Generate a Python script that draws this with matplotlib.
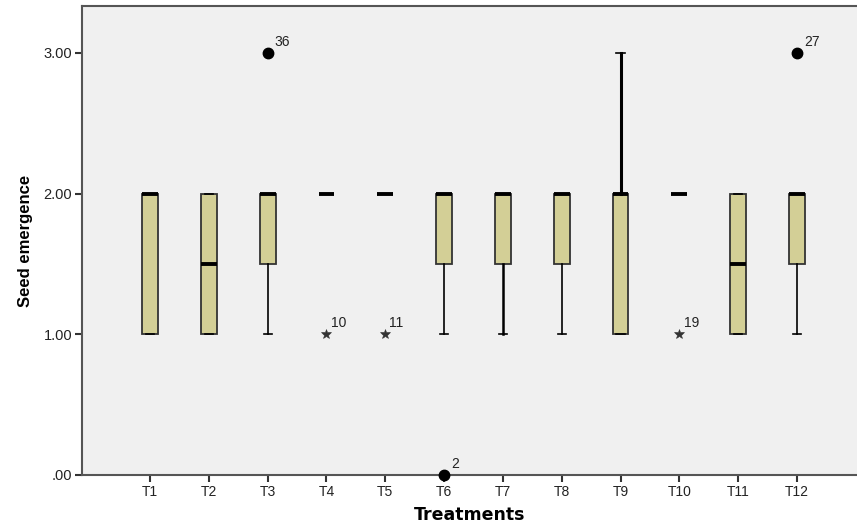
import matplotlib
matplotlib.use("Agg")
import matplotlib.pyplot as plt

# ---- data (summary statistics) ----
treatments = ["T1", "T2", "T3", "T4", "T5", "T6", "T7", "T8", "T9", "T10", "T11", "T12"]
q1 =      [1.0, 1.0, 1.5, 2.0, 2.0, 1.5, 1.5, 1.5, 1.0, 2.0, 1.0, 1.5]
median =  [2.0, 1.5, 2.0, 2.0, 2.0, 2.0, 2.0, 2.0, 2.0, 2.0, 1.5, 2.0]
q3 =      [2.0, 2.0, 2.0, 2.0, 2.0, 2.0, 2.0, 2.0, 2.0, 2.0, 2.0, 2.0]
wlo =     [1.0, 1.0, 1.0, 2.0, 2.0, 1.0, 1.0, 1.0, 1.0, 2.0, 1.0, 1.0]
whi =     [2.0, 2.0, 2.0, 2.0, 2.0, 2.0, 2.0, 2.0, 3.0, 2.0, 2.0, 2.0]

# outliers: (treatment index, value, case label)
circle_out_idx = [2, 5, 11]
circle_out_val = [3.0, 0.0, 3.0]
circle_out_lab = ["36", "2", "27"]
star_out_idx = [3, 4, 9]
star_out_val = [1.0, 1.0, 1.0]
star_out_lab = ["10", "11", "19"]

yticks = [0, 1, 2, 3]
yticklabels = [".00", "1.00", "2.00", "3.00"]

plt.rcParams["font.family"] = ["Liberation Sans", "DejaVu Sans"]

fig = plt.figure(figsize=(8.57, 5.27), dpi=100)
fig.patch.set_facecolor("white")
ax = fig.add_axes([82 / 857, 52 / 527, 1 - 82 / 857, (475 - 6) / 527])
ax.set_facecolor("#F0F0F0")

positions = list(range(1, len(treatments) + 1))
stats = []
for i in range(len(treatments)):
    stats.append(dict(q1=q1[i], med=median[i], q3=q3[i],
                      whislo=wlo[i], whishi=whi[i], fliers=[], label=treatments[i]))

edge = "#333333"
res = ax.bxp(stats, positions=positions, widths=0.27, patch_artist=True,
             showfliers=False, manage_ticks=False,
             boxprops=dict(facecolor="#D3CF96", edgecolor=edge, linewidth=1.3),
             medianprops=dict(color="black", linewidth=2.8, solid_capstyle="butt"),
             whiskerprops=dict(color="black", linewidth=1.2),
             capprops=dict(color="black", linewidth=1.2),
             capwidths=0.14)
# thicker whiskers for T7 and T9 as in the reference rendering
for k, lw in ((6, 1.8), (8, 2.2)):
    for w in res["whiskers"][2 * k:2 * k + 2]:
        w.set_linewidth(lw)

# outliers
for i, v, lab in zip(circle_out_idx, circle_out_val, circle_out_lab):
    x = positions[i]
    ax.plot(x, v, "o", color="black", markersize=7.5, clip_on=False, zorder=5)
    ax.annotate(lab, (x, v), xytext=(5, 3), textcoords="offset points",
                fontsize=10, color="#222222", ha="left", va="bottom",
                annotation_clip=False)
for i, v, lab in zip(star_out_idx, star_out_val, star_out_lab):
    x = positions[i]
    ax.plot(x, v, "*", color="#333333", markersize=7.5, markeredgewidth=0.4, zorder=5)
    ax.annotate(lab, (x, v), xytext=(3, 3), textcoords="offset points",
                fontsize=10, color="#222222", ha="left", va="bottom")

ax.set_xlim(1 - 68 / 58.8, 12 + 60 / 58.8)
ax.set_ylim(0, 3 + 47 / 141)
ax.set_xticks(positions)
ax.set_xticklabels(treatments, fontsize=10, color="#222222")
ax.set_yticks(yticks)
ax.set_yticklabels(yticklabels, fontsize=10.5, color="#222222")

for s in ["left", "bottom", "top"]:
    ax.spines[s].set_color("#555555")
    ax.spines[s].set_linewidth(1.5)
ax.spines["right"].set_visible(False)
ax.tick_params(axis="both", direction="out", length=5, width=1.5, color="#333333", pad=2)

ax.set_xlabel("Treatments", fontsize=12.5, fontweight="bold", labelpad=5,
              family=["DejaVu Sans"])
ax.set_ylabel("Seed emergence", fontsize=12, fontweight="bold", labelpad=8,
              family=["Liberation Sans Narrow", "Liberation Sans", "DejaVu Sans"])

fig.savefig("out.png", dpi=100)
